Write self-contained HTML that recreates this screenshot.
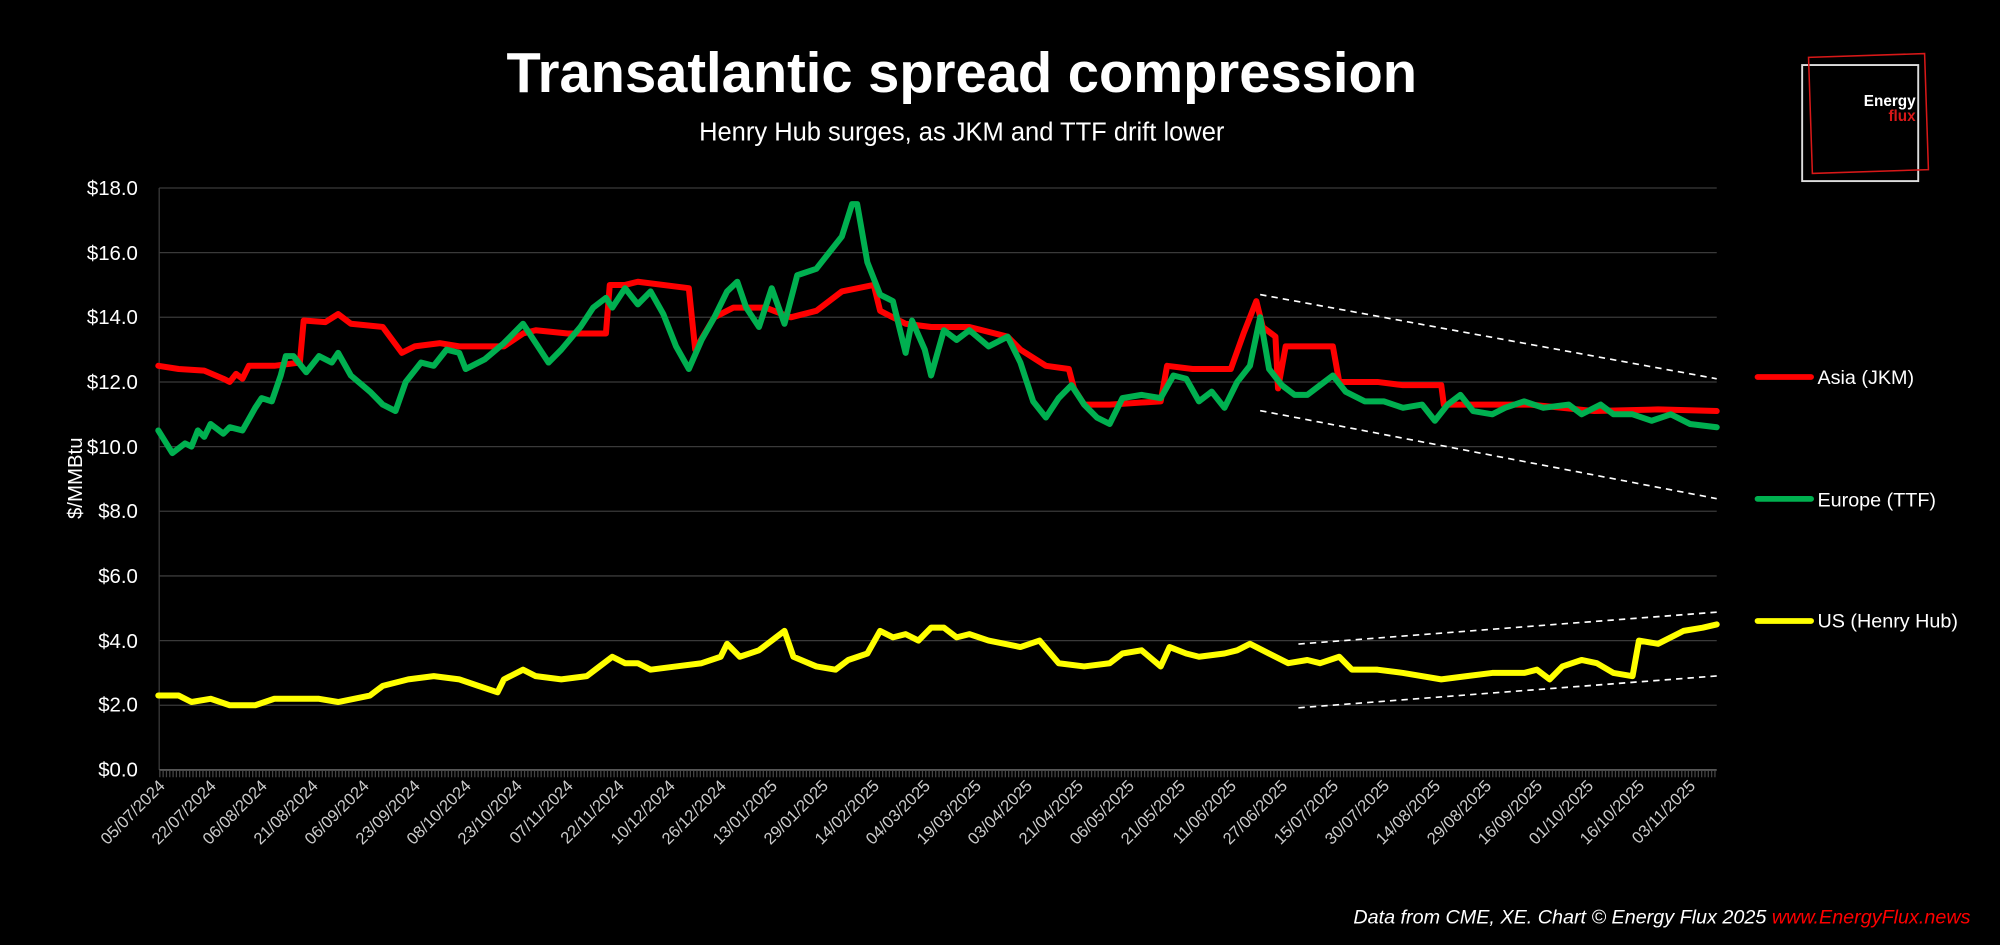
<!DOCTYPE html>
<html><head><meta charset="utf-8"><style>
html,body{margin:0;padding:0;background:#000;}
svg{display:block;}
text{font-family:"Liberation Sans",sans-serif;}
</style></head><body>
<svg width="2000" height="945" viewBox="0 0 1568 741" xmlns="http://www.w3.org/2000/svg">
<rect width="1568" height="741" fill="#000"/>
<text x="754" y="72" fill="#fff" font-size="44" font-weight="bold" text-anchor="middle">Transatlantic spread compression</text>
<text x="754" y="110" fill="#fff" font-size="20" text-anchor="middle">Henry Hub surges, as JKM and TTF drift lower</text>
<!-- logo -->
<rect x="1413" y="51" width="91" height="91" fill="none" stroke="#ddd" stroke-width="1.5"/>
<polygon points="1418,45 1509,42 1512,133 1421,136" fill="none" stroke="#d81818" stroke-width="1.2"/>
<text x="1502" y="83" fill="#fff" font-size="12" font-weight="bold" text-anchor="end">Energy</text>
<text x="1502" y="95" fill="#d81818" font-size="12" font-weight="bold" text-anchor="end">flux</text>
<!-- grid -->
<g stroke="#3a3a3a" stroke-width="1">
<line x1="124.7" x2="1346" y1="147.4" y2="147.4"/>
<line x1="124.7" x2="1346" y1="198.1" y2="198.1"/>
<line x1="124.7" x2="1346" y1="248.8" y2="248.8"/>
<line x1="124.7" x2="1346" y1="299.5" y2="299.5"/>
<line x1="124.7" x2="1346" y1="350.2" y2="350.2"/>
<line x1="124.7" x2="1346" y1="400.9" y2="400.9"/>
<line x1="124.7" x2="1346" y1="451.6" y2="451.6"/>
<line x1="124.7" x2="1346" y1="502.3" y2="502.3"/>
<line x1="124.7" x2="1346" y1="553" y2="553"/>
<line x1="124.7" x2="124.7" y1="147.4" y2="603.7"/>
</g>
<line x1="124.7" x2="1346" y1="603.7" y2="603.7" stroke="#555" stroke-width="1.5"/>
<line x1="124.7" x2="1346" y1="607" y2="607" stroke="#444" stroke-width="5" stroke-dasharray="1 1.6"/>
<g fill="#fff" font-size="16" text-anchor="end">
<text x="108" y="153">$18.0</text><text x="108" y="204">$16.0</text><text x="108" y="254">$14.0</text>
<text x="108" y="305">$12.0</text><text x="108" y="356">$10.0</text><text x="108" y="406">$8.0</text>
<text x="108" y="457">$6.0</text><text x="108" y="508">$4.0</text><text x="108" y="558">$2.0</text>
<text x="108" y="609">$0.0</text>
</g>
<text transform="translate(64,375) rotate(-90)" fill="#fff" font-size="16" text-anchor="middle">$/MMBtu</text>
<g fill="#ccc" font-size="13" text-anchor="end">
<text transform="translate(130,617) rotate(-45)">05/07/2024</text>
<text transform="translate(170,617) rotate(-45)">22/07/2024</text>
<text transform="translate(210,617) rotate(-45)">06/08/2024</text>
<text transform="translate(250,617) rotate(-45)">21/08/2024</text>
<text transform="translate(290,617) rotate(-45)">06/09/2024</text>
<text transform="translate(330,617) rotate(-45)">23/09/2024</text>
<text transform="translate(370,617) rotate(-45)">08/10/2024</text>
<text transform="translate(410,617) rotate(-45)">23/10/2024</text>
<text transform="translate(450,617) rotate(-45)">07/11/2024</text>
<text transform="translate(490,617) rotate(-45)">22/11/2024</text>
<text transform="translate(530,617) rotate(-45)">10/12/2024</text>
<text transform="translate(570,617) rotate(-45)">26/12/2024</text>
<text transform="translate(610,617) rotate(-45)">13/01/2025</text>
<text transform="translate(650,617) rotate(-45)">29/01/2025</text>
<text transform="translate(690,617) rotate(-45)">14/02/2025</text>
<text transform="translate(730,617) rotate(-45)">04/03/2025</text>
<text transform="translate(770,617) rotate(-45)">19/03/2025</text>
<text transform="translate(810,617) rotate(-45)">03/04/2025</text>
<text transform="translate(850,617) rotate(-45)">21/04/2025</text>
<text transform="translate(890,617) rotate(-45)">06/05/2025</text>
<text transform="translate(930,617) rotate(-45)">21/05/2025</text>
<text transform="translate(970,617) rotate(-45)">11/06/2025</text>
<text transform="translate(1010,617) rotate(-45)">27/06/2025</text>
<text transform="translate(1050,617) rotate(-45)">15/07/2025</text>
<text transform="translate(1090,617) rotate(-45)">30/07/2025</text>
<text transform="translate(1130,617) rotate(-45)">14/08/2025</text>
<text transform="translate(1170,617) rotate(-45)">29/08/2025</text>
<text transform="translate(1210,617) rotate(-45)">16/09/2025</text>
<text transform="translate(1250,617) rotate(-45)">01/10/2025</text>
<text transform="translate(1290,617) rotate(-45)">16/10/2025</text>
<text transform="translate(1330,617) rotate(-45)">03/11/2025</text>
</g>
<g transform="translate(0,603.7) scale(1,-25.35)" fill="none" stroke-linejoin="round" stroke-linecap="round">
<polyline vector-effect="non-scaling-stroke" stroke="#ff0000" stroke-width="6" points="124,12.5 140,12.4 160,12.35 175,12.1 180,12 185,12.25 190,12.1 195,12.5 215,12.5 235,12.6 238,13.9 255,13.85 265,14.1 275,13.8 300,13.7 315,12.9 325,13.1 345,13.2 360,13.1 395,13.1 410,13.5 420,13.6 445,13.5 475,13.5 478,15.0 490,15.0 500,15.1 540,14.9 545,13.0 560,14.0 575,14.3 600,14.3 620,14.0 640,14.2 660,14.8 685,15.0 690,14.2 710,13.8 730,13.7 760,13.7 790,13.4 800,13.0 820,12.5 838,12.4 842,11.8 850,11.3 870,11.3 910,11.4 915,12.5 935,12.4 950,12.4 965,12.4 975,13.5 985,14.5 990,13.7 1000,13.4 1002,11.8 1008,13.1 1045,13.1 1050,12.0 1080,12.0 1100,11.9 1130,11.9 1132,11.3 1150,11.3 1200,11.3 1250,11.1 1300,11.15 1346,11.1"/>
<polyline vector-effect="non-scaling-stroke" stroke="#00b050" stroke-width="6" points="124,10.5 135,9.8 145,10.1 150,10.0 155,10.5 160,10.3 165,10.7 175,10.4 180,10.6 190,10.5 200,11.2 205,11.5 213,11.4 220,12.2 224,12.8 230,12.8 240,12.3 250,12.8 260,12.6 265,12.9 275,12.2 290,11.7 300,11.3 310,11.1 318,12.0 330,12.6 340,12.5 350,13.0 360,12.9 365,12.4 380,12.7 395,13.2 410,13.8 420,13.2 430,12.6 440,13.0 455,13.7 465,14.3 475,14.6 480,14.3 490,14.9 500,14.4 510,14.8 520,14.1 530,13.1 540,12.4 550,13.3 560,14.0 570,14.8 578,15.1 585,14.3 595,13.7 605,14.9 615,13.8 625,15.3 640,15.5 650,16.0 660,16.5 668,17.5 672,17.5 680,15.7 690,14.7 700,14.5 710,12.9 715,13.9 725,13.0 730,12.2 740,13.6 750,13.3 760,13.6 775,13.1 790,13.4 800,12.6 810,11.4 820,10.9 830,11.5 840,11.9 850,11.3 860,10.9 870,10.7 880,11.5 895,11.6 910,11.5 920,12.2 930,12.1 940,11.4 950,11.7 960,11.2 970,12.0 980,12.5 988,14.0 995,12.4 1005,11.9 1015,11.6 1025,11.6 1035,11.9 1045,12.2 1055,11.7 1070,11.4 1085,11.4 1100,11.2 1115,11.3 1125,10.8 1135,11.3 1145,11.6 1155,11.1 1170,11.0 1180,11.2 1195,11.4 1210,11.2 1230,11.3 1240,11.0 1255,11.3 1265,11.0 1280,11.0 1295,10.8 1310,11.0 1325,10.7 1346,10.6"/>
<polyline vector-effect="non-scaling-stroke" stroke="#ffff00" stroke-width="6" points="124,2.3 140,2.3 150,2.1 165,2.2 180,2.0 200,2.0 215,2.2 235,2.2 250,2.2 265,2.1 290,2.3 300,2.6 320,2.8 340,2.9 360,2.8 375,2.6 390,2.4 395,2.8 410,3.1 420,2.9 440,2.8 460,2.9 470,3.2 480,3.5 490,3.3 500,3.3 510,3.1 530,3.2 550,3.3 565,3.5 570,3.9 580,3.5 595,3.7 605,4.0 615,4.3 622,3.5 640,3.2 655,3.1 665,3.4 680,3.6 690,4.3 700,4.1 710,4.2 720,4.0 730,4.4 740,4.4 750,4.1 760,4.2 775,4.0 800,3.8 815,4.0 830,3.3 850,3.2 870,3.3 880,3.6 895,3.7 910,3.2 917,3.8 930,3.6 940,3.5 960,3.6 970,3.7 980,3.9 995,3.6 1010,3.3 1025,3.4 1035,3.3 1050,3.5 1060,3.1 1080,3.1 1100,3.0 1130,2.8 1150,2.9 1170,3.0 1195,3.0 1205,3.1 1215,2.8 1225,3.2 1240,3.4 1252,3.3 1265,3.0 1280,2.9 1285,4.0 1300,3.9 1320,4.3 1335,4.4 1346,4.5"/>
</g>
<g stroke="#fff" stroke-width="1.3" stroke-dasharray="5 4">
<line x1="988" y1="231" x2="1346" y2="297"/>
<line x1="988" y1="322" x2="1346" y2="391"/>
<line x1="1018" y1="505" x2="1346" y2="480"/>
<line x1="1018" y1="555" x2="1346" y2="530"/>
</g>
<g stroke-width="4.5" stroke-linecap="round">
<line x1="1378" x2="1420" y1="295.6" y2="295.6" stroke="#ff0000"/>
<line x1="1378" x2="1420" y1="391.2" y2="391.2" stroke="#00b050"/>
<line x1="1378" x2="1420" y1="486.9" y2="486.9" stroke="#ffff00"/>
</g>
<g fill="#fff" font-size="15.5">
<text x="1425" y="301">Asia (JKM)</text>
<text x="1425" y="397">Europe (TTF)</text>
<text x="1425" y="492">US (Henry Hub)</text>
</g>
<text x="1545" y="724" font-size="15.5" font-style="italic" text-anchor="end" fill="#fff">Data from CME, XE. Chart © Energy Flux 2025 <tspan fill="#ff0000">www.EnergyFlux.news</tspan></text>
</svg>
</body></html>
